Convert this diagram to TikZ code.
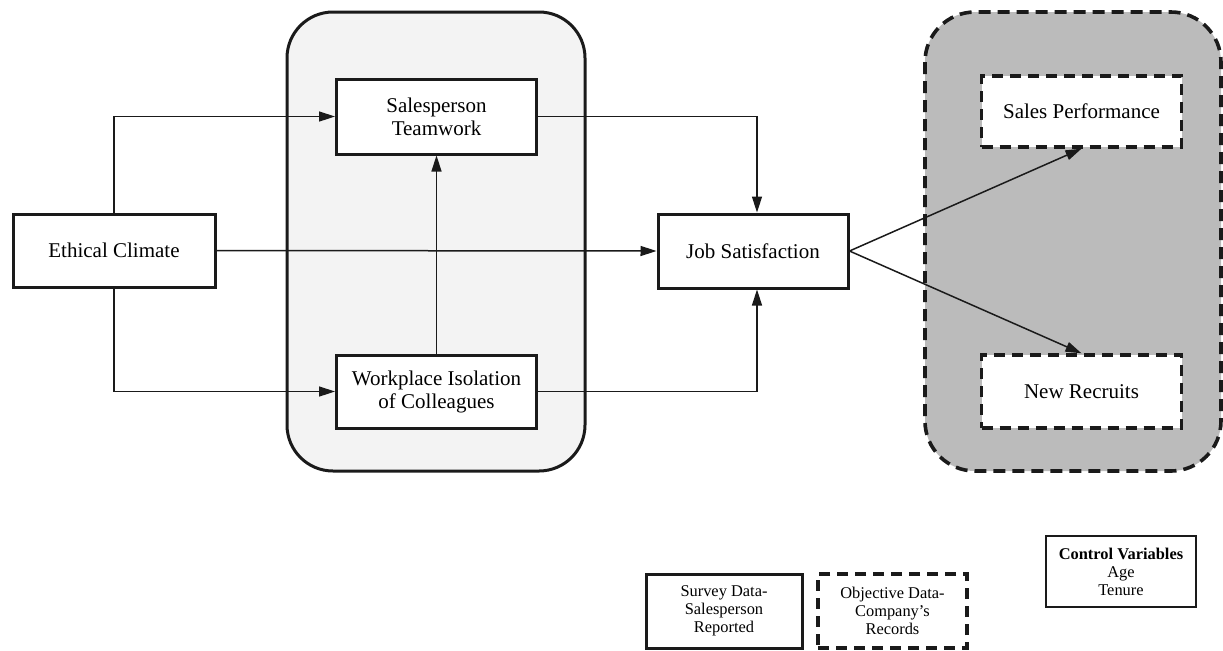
\documentclass[tikz,border=0pt]{standalone}
\usepackage{fontspec}
\setmainfont{Liberation Serif}
\usetikzlibrary{arrows.meta}
\definecolor{lightbg}{HTML}{F3F3F3}
\definecolor{darkbg}{HTML}{BBBBBB}
\definecolor{ink}{HTML}{1A1A1A}
\tikzset{
  mainbox/.style={draw=ink, line width=1.5pt, fill=white, inner sep=0pt, align=center,
    font=\fontsize{10.5}{11.5}\selectfont},
  solidbox/.style={mainbox},
  dashbox/.style={mainbox, line width=1.7pt, dash pattern=on 5.5pt off 3.5pt},
  legendbox/.style={draw=ink, line width=1.5pt, fill=white, inner sep=0pt, align=center,
    font=\fontsize{8.2}{9}\selectfont, minimum width=78pt, minimum height=37pt},
  link/.style={draw=ink, line width=0.75pt, -{Triangle[length=8pt,width=5pt]}},
}
\begin{document}
\begin{tikzpicture}[x=0.5pt,y=-0.5pt]
\useasboundingbox (0,0) rectangle (1223,650);
% containers
\draw[draw=ink, line width=1.5pt, fill=lightbg, rounded corners=23pt] (287,12) rectangle (585,471);
\draw[draw=ink, line width=1.8pt, fill=darkbg, rounded corners=25pt, dash pattern=on 6pt off 3.5pt] (925,12) rectangle (1221,471);
% nodes
\node[solidbox, minimum width=101pt, minimum height=36.5pt] (ec) at (114,250.5) {Ethical Climate};
\node[solidbox, minimum width=100pt, minimum height=37.5pt] (tw) at (436.5,116.5) {Salesperson\\Teamwork};
\node[solidbox, minimum width=100pt, minimum height=36.5pt] (iso) at (436.5,391.5) {Workplace Isolation\\of Colleagues};
\node[solidbox, minimum width=95pt, minimum height=37pt] (js) at (753,251) {Job Satisfaction};
\node[dashbox, minimum width=100pt, minimum height=35.5pt] (sp) at (1081.5,111.5) {Sales Performance};
\node[dashbox, minimum width=100pt, minimum height=36.5pt] (nr) at (1081.5,391.5) {New Recruits};
% legend
\node[legendbox] (sv) at (724,611) {Survey Data-\\Salesperson\\Reported};
\node[legendbox, line width=1.7pt, dash pattern=on 5.5pt off 3.5pt, minimum width=74.5pt] (ob) at (892.5,611) {Objective Data-\\Company’s\\Records};
\node[draw=ink, line width=0.6pt, fill=white, inner sep=0pt, align=center,
  font=\fontsize{8.2}{9}\selectfont, minimum width=75pt, minimum height=35.5pt] (cv) at (1121,571.5)
  {\textbf{Control Variables}\\Age\\Tenure};
% connectors
\draw[link] (ec.north) |- (tw.west);
\draw[link] (ec.south) |- (iso.west);
\draw[link] (ec.east) -- (js.west);
\draw[link] (tw.east) -| ([xshift=2pt]js.north);
\draw[link] (iso.east) -| ([xshift=2pt]js.south);
\draw[link] (iso.north) -- (tw.south);
\draw[link] (js.east) -- (sp.south);
\draw[link] (js.east) -- (nr.north);
\end{tikzpicture}
\end{document}
